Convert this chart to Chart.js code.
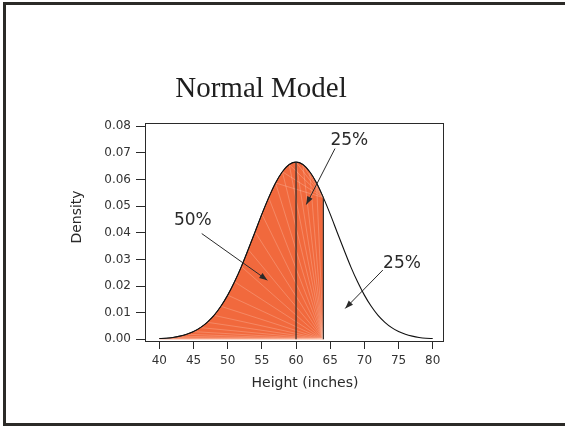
<!DOCTYPE html>
<html>
<head>
<meta charset="utf-8">
<script src="https://cdn.jsdelivr.net/npm/chart.js@4.4.1/dist/chart.umd.min.js"></script>
<style>
  html, body { margin: 0; padding: 0; background: #fff; overflow: hidden; }
  canvas { display: block; }
</style>
</head>
<body>
<canvas id="normal-chart" width="565" height="426"></canvas>
<script>
/* Normal model of heights: density */
const heights = [40, 41, 42, 43, 44, 45, 46, 47, 48, 49, 50, 51, 52, 53, 54, 55, 56, 57, 58, 59,
                 60, 61, 62, 63, 64, 65, 66, 67, 68, 69, 70, 71, 72, 73, 74, 75, 76, 77, 78, 79, 80];
const density = [0.0003, 0.0004, 0.0007, 0.0012, 0.0019, 0.0029, 0.0044, 0.0064, 0.0090, 0.0124,
                 0.0166, 0.0216, 0.0273, 0.0337, 0.0403, 0.0470, 0.0532, 0.0587, 0.0629, 0.0656,
                 0.0665, 0.0656, 0.0629, 0.0587, 0.0532, 0.0470, 0.0403, 0.0337, 0.0273, 0.0216,
                 0.0166, 0.0124, 0.0090, 0.0064, 0.0044, 0.0029, 0.0019, 0.0012, 0.0007, 0.0004, 0.0003];
const xTicks  = [40, 45, 50, 55, 60, 65, 70, 75, 80];
const yTicks  = [0, 0.01, 0.02, 0.03, 0.04, 0.05, 0.06, 0.07, 0.08];
const median  = 60;   // 50% mark
const upperQ  = 64;   // 75th percentile, end of shading
const pctText = ['50%', '25%', '25%'];

// label + arrow placement, in data units
const annot = [
  { at: [44.9, 0.0447], from: [46.2, 0.0397], to: [55.8, 0.0222] },
  { at: [67.8, 0.0745], from: [65.7, 0.0716], to: [61.5, 0.0506] },
  { at: [75.5, 0.0285], from: [72.7, 0.0260], to: [67.2, 0.0116] },
];

const INK = '#2a2a2a', ORANGE = '#F1693D';
const pts    = heights.map((h, i) => ({ x: h, y: density[i] }));
const shaded = pts.filter(p => p.x <= upperQ);
const topQ   = shaded[shaded.length - 1].y;
const topMed = pts.find(p => p.x === median).y;

const decor = {
  id: 'decor',
  beforeDraw(chart) {
    // slide frame: left, top and bottom edges only
    const { ctx, width, height } = chart;
    ctx.save();
    ctx.fillStyle = '#fff';
    ctx.fillRect(0, 0, width, height);
    ctx.fillStyle = '#2b2a27';
    ctx.fillRect(3, 2, 3, height - 2);
    ctx.fillRect(3, 2, width - 3, 3);
    ctx.fillRect(3, height - 3, width - 3, 3);
    ctx.restore();
  },
  afterDatasetDraw(chart, args) {
    // faint streaks inside the shaded polygon, fanning from its right edge
    if (chart.data.datasets[args.index].label !== 'shade') return;
    const { ctx, scales: { x, y } } = chart;
    ctx.save();
    ctx.strokeStyle = 'rgba(255,220,205,0.45)';
    ctx.lineWidth = 0.6;
    shaded.forEach(p => {
      ctx.beginPath();
      ctx.moveTo(x.getPixelForValue(upperQ), y.getPixelForValue(0));
      ctx.lineTo(x.getPixelForValue(p.x), y.getPixelForValue(p.y));
      ctx.stroke();
      if (p.y > topQ) {
        ctx.beginPath();
        ctx.moveTo(x.getPixelForValue(upperQ), y.getPixelForValue(topQ));
        ctx.lineTo(x.getPixelForValue(p.x), y.getPixelForValue(p.y));
        ctx.stroke();
      }
    });
    ctx.restore();
  },
  afterDraw(chart) {
    const { ctx, chartArea: a, scales: { x, y } } = chart;
    ctx.save();
    ctx.strokeStyle = INK; ctx.lineWidth = 1;
    ctx.strokeRect(a.left + 0.5, a.top + 0.5, a.right - a.left - 1, a.bottom - a.top - 1);

    ctx.fillStyle = '#1e1e1e';
    ctx.textAlign = 'center';
    ctx.textBaseline = 'alphabetic';
    ctx.font = '29px "Liberation Serif", "Times New Roman", serif';
    ctx.fillText('Normal Model', 261, 97);

    ctx.font = '14px "DejaVu Sans", sans-serif';
    ctx.fillStyle = '#2a2a2a';
    ctx.fillText('Height (inches)', 305, 387);
    ctx.save();
    ctx.translate(81, 217); ctx.rotate(-Math.PI / 2);
    ctx.fillText('Density', 0, 0);
    ctx.restore();

    // percentage labels with arrows
    ctx.font = '17px "DejaVu Sans", sans-serif';
    ctx.textBaseline = 'middle';
    annot.forEach((n, i) => {
      ctx.fillText(pctText[i], x.getPixelForValue(n.at[0]), y.getPixelForValue(n.at[1]));
      const x0 = x.getPixelForValue(n.from[0]), y0 = y.getPixelForValue(n.from[1]);
      const x1 = x.getPixelForValue(n.to[0]),   y1 = y.getPixelForValue(n.to[1]);
      const ang = Math.atan2(y1 - y0, x1 - x0);
      ctx.beginPath(); ctx.moveTo(x0, y0); ctx.lineTo(x1, y1); ctx.stroke();
      ctx.beginPath();
      ctx.moveTo(x1, y1);
      ctx.lineTo(x1 - 8 * Math.cos(ang) + 3 * Math.sin(ang), y1 - 8 * Math.sin(ang) - 3 * Math.cos(ang));
      ctx.lineTo(x1 - 8 * Math.cos(ang) - 3 * Math.sin(ang), y1 - 8 * Math.sin(ang) + 3 * Math.cos(ang));
      ctx.closePath(); ctx.fill();
    });
    ctx.restore();
  }
};

const tickFont = { family: '"DejaVu Sans", sans-serif', size: 12 };

new Chart(document.getElementById('normal-chart'), {
  type: 'line',
  data: {
    datasets: [
      { label: 'median', data: [{ x: median, y: 0 }, { x: median, y: topMed }],
        borderColor: INK, borderWidth: 1.2, pointRadius: 0, order: 0 },
      { label: 'edge', data: [{ x: upperQ, y: 0 }, { x: upperQ, y: topQ }],
        borderColor: INK, borderWidth: 1.2, pointRadius: 0, order: 0 },
      { label: 'curve', data: pts, borderColor: '#111', borderWidth: 1.1, pointRadius: 0,
        cubicInterpolationMode: 'monotone', order: 1 },
      { label: 'shade', data: shaded, borderColor: INK, borderWidth: 1, pointRadius: 0,
        cubicInterpolationMode: 'monotone', fill: 'origin', backgroundColor: ORANGE, order: 3 },
    ]
  },
  options: {
    responsive: false, animation: false,
    layout: { padding: { left: 0, top: 123, right: 121, bottom: 0 } },
    plugins: { legend: { display: false }, tooltip: { enabled: false } },
    scales: {
      x: {
        type: 'linear', min: 37.9, max: 81.65,
        afterBuildTicks: s => { s.ticks = xTicks.map(v => ({ value: v })); },
        afterFit: s => { s.height = 84; },
        border: { display: false },
        grid: { drawOnChartArea: false, drawTicks: true, tickLength: 7, color: INK },
        ticks: { color: '#333', font: tickFont, padding: 5, maxRotation: 0 }
      },
      y: {
        min: -0.001, max: 0.0812,
        afterBuildTicks: s => { s.ticks = yTicks.map(v => ({ value: v })); },
        afterFit: s => { s.width = 145; },
        border: { display: false },
        grid: { drawOnChartArea: false, drawTicks: true, tickLength: 9, color: INK },
        ticks: { color: '#333', font: tickFont, padding: 5, callback: v => v.toFixed(2) }
      }
    }
  },
  plugins: [decor]
});
</script>
</body>
</html>
